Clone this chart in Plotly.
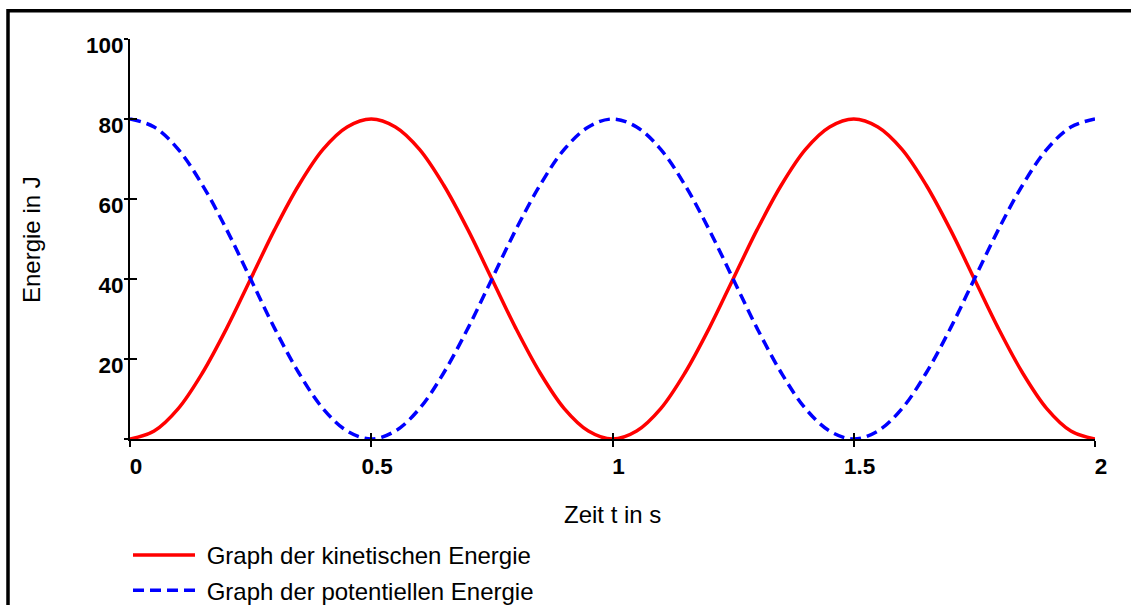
import plotly.graph_objects as go

# Zeit t in s
zeit = [0.00, 0.05, 0.10, 0.15, 0.20, 0.25, 0.30, 0.35, 0.40, 0.45,
        0.50, 0.55, 0.60, 0.65, 0.70, 0.75, 0.80, 0.85, 0.90, 0.95,
        1.00, 1.05, 1.10, 1.15, 1.20, 1.25, 1.30, 1.35, 1.40, 1.45,
        1.50, 1.55, 1.60, 1.65, 1.70, 1.75, 1.80, 1.85, 1.90, 1.95, 2.00]

# Kinetische Energie in J
e_kin = [0.0, 2.0, 7.6, 16.5, 27.6, 40.0, 52.4, 63.5, 72.4, 78.0,
         80.0, 78.0, 72.4, 63.5, 52.4, 40.0, 27.6, 16.5, 7.6, 2.0,
         0.0, 2.0, 7.6, 16.5, 27.6, 40.0, 52.4, 63.5, 72.4, 78.0,
         80.0, 78.0, 72.4, 63.5, 52.4, 40.0, 27.6, 16.5, 7.6, 2.0, 0.0]

# Potentielle Energie in J
e_pot = [80.0, 78.0, 72.4, 63.5, 52.4, 40.0, 27.6, 16.5, 7.6, 2.0,
         0.0, 2.0, 7.6, 16.5, 27.6, 40.0, 52.4, 63.5, 72.4, 78.0,
         80.0, 78.0, 72.4, 63.5, 52.4, 40.0, 27.6, 16.5, 7.6, 2.0,
         0.0, 2.0, 7.6, 16.5, 27.6, 40.0, 52.4, 63.5, 72.4, 78.0, 80.0]

x_tickvals = [0, 0.5, 1, 1.5, 2]
x_ticktext = ["0", "0.5", "1", "1.5", "2"]
y_tickvals = [0, 20, 40, 60, 80, 100]
y_ticktext = ["", "20", "40", "60", "80", "100"]

name_kin = "Graph der kinetischen Energie"
name_pot = "Graph der potentiellen Energie"
x_title = "Zeit t in s"
y_title = "Energie in J"

FONT = "Liberation Sans, Arial, Helvetica, sans-serif"
W, H = 1131, 605
L, R, T, B = 130, 36, 39, 166
PW = W - L - R
PH = H - T - B


def px_x(p):
    return (p - L) / PW


def px_y(p):
    return (H - B - p) / PH


fig = go.Figure()
fig.add_trace(go.Scatter(
    x=zeit, y=e_kin, mode="lines", name="\u00a0" + name_kin,
    line=dict(color="#ff0000", width=3.5, shape="spline"),
    legendgroup="a",
))
fig.add_trace(go.Scatter(
    x=zeit, y=e_pot, mode="lines", name="\u00a0" + name_pot,
    line=dict(color="#0000ff", width=3.5, dash="11px,6px", shape="spline"),
    legendgroup="b",
))

tickfont = dict(family=FONT, size=22.5, color="black", weight="bold")

fig.update_layout(
    width=W, height=H,
    margin=dict(l=L, r=R, t=T, b=B, pad=0, autoexpand=False),
    paper_bgcolor="white", plot_bgcolor="white",
    font=dict(family=FONT, color="black"),
    showlegend=True,
    legend=dict(
        xref="container", yref="container",
        x=128 / W, y=1 - 533 / H, xanchor="left", yanchor="top",
        font=dict(family=FONT, size=24, color="black"),
        bgcolor="rgba(0,0,0,0)", borderwidth=0,
        itemwidth=62, tracegroupgap=1,
    ),
    xaxis=dict(
        range=[0, 2], showgrid=False, zeroline=False,
        showline=True, linecolor="black", linewidth=2,
        ticks="outside", ticklen=6, tickwidth=1.5, tickcolor="black",
        tickvals=x_tickvals, ticktext=x_ticktext, tickfont=tickfont,
        ticklabelshift=6,
    ),
    yaxis=dict(
        range=[0, 100], showgrid=False, zeroline=False,
        showline=True, linecolor="black", linewidth=2,
        ticks="outside", ticklen=4, tickwidth=1.5, tickcolor="black",
        tickvals=y_tickvals, ticktext=y_ticktext, tickfont=tickfont,
        ticklabelshift=6, ticklabelstandoff=-4,
    ),
    xaxis2=dict(
        range=[0, 2], overlaying="x", matches="x", showgrid=False, zeroline=False,
        showline=False, ticks="inside", ticklen=6, tickwidth=1.5, tickcolor="black",
        tickvals=x_tickvals, showticklabels=False, side="bottom",
    ),
    yaxis2=dict(
        range=[0, 100], overlaying="y", showgrid=False, zeroline=False,
        showline=False, ticks="inside", ticklen=7, tickwidth=1.5, tickcolor="black",
        tickvals=y_tickvals, showticklabels=False, side="left",
    ),
    annotations=[
        dict(text=x_title, xref="paper", yref="paper",
             x=px_x(612), y=px_y(514), xanchor="center", yanchor="middle",
             showarrow=False, font=dict(family=FONT, size=24, color="black")),
        dict(text=y_title, xref="paper", yref="paper",
             x=px_x(32), y=px_y(240), xanchor="center", yanchor="middle",
             textangle=-90, showarrow=False,
             font=dict(family=FONT, size=24, color="black")),
    ],
    shapes=[
        dict(type="path", xref="paper", yref="paper",
             path=f"M {px_x(8)} {px_y(650)} L {px_x(8)} {px_y(10.7)} L {px_x(1160)} {px_y(10.7)}",
             line=dict(color="black", width=3.5)),
    ],
)

# invisible helper trace to activate the secondary (inside-tick) axes
fig.add_trace(go.Scatter(x=[0], y=[0], xaxis="x2", yaxis="y2", mode="markers",
                         marker=dict(opacity=0), showlegend=False, hoverinfo="skip"))

fig.write_html(
    "out.html",
    config={"displayModeBar": False},
    post_script="document.body.style.margin='0';document.body.style.overflow='hidden';",
)
